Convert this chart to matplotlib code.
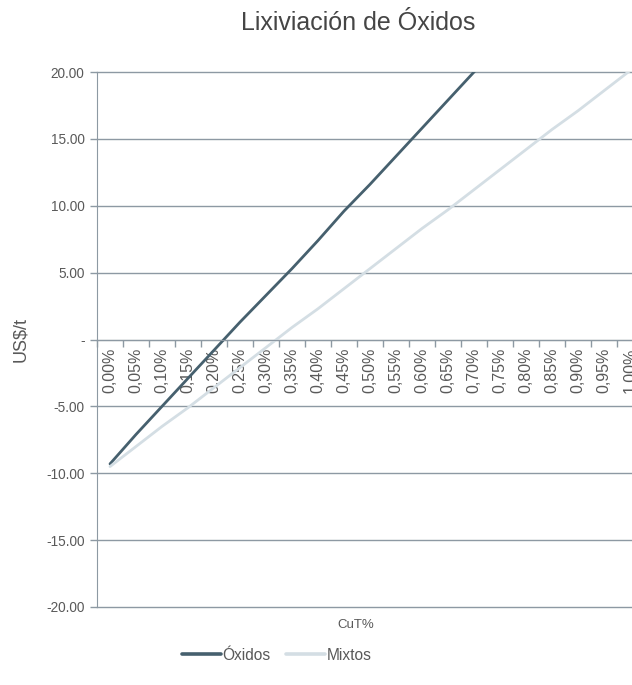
import numpy as np
import matplotlib
matplotlib.use("Agg")
import matplotlib.pyplot as plt
from matplotlib.ticker import FixedLocator, FuncFormatter

plt.rcParams['font.family'] = ['Liberation Sans', 'DejaVu Sans']

# Ley de cobre (CuT%) y margen US$/t por tipo de mineral
cut_labels = ["0,00%", "0,05%", "0,10%", "0,15%", "0,20%", "0,25%", "0,30%",
              "0,35%", "0,40%", "0,45%", "0,50%", "0,55%", "0,60%", "0,65%",
              "0,70%", "0,75%", "0,80%", "0,85%", "0,90%", "0,95%", "1,00%"]
oxidos = [-9.3, -7.1, -5.0, -2.9, -0.8, 1.3, 3.3, 5.3, 7.4, 9.6, 11.6,
          13.7, 15.8, 17.9, 20.0, 22.1, 24.2, 26.3, 28.4, 30.5, 32.6]
mixtos = [-9.5, -8.0, -6.5, -5.1, -3.6, -2.1, -0.6, 0.9, 2.3, 3.8, 5.3,
          6.8, 8.3, 9.7, 11.2, 12.7, 14.2, 15.7, 17.1, 18.6, 20.1]

TXT = '#595959'
AX = '#8d99a3'

fig = plt.figure(figsize=(6.32, 6.85), dpi=100)
ax = fig.add_axes([97/632, 1 - 607/685, 546/632, 535/685])

x = np.arange(len(cut_labels))
ax.plot(x, oxidos, color='#46606e', lw=2.0, label='Óxidos', solid_capstyle='round')
ax.plot(x, mixtos, color='#d4dee4', lw=2.0, label='Mixtos', solid_capstyle='round')

ax.set_xlim(-0.5, len(cut_labels) - 0.5)
ax.set_ylim(-20, 20)

# eje Y
ax.set_yticks(np.arange(-20, 21, 5))
ax.yaxis.set_major_formatter(FuncFormatter(lambda v, p: '-' if abs(v) < 1e-9 else f'{v:.2f}'))
ax.tick_params(axis='y', colors=AX, labelcolor=TXT, labelsize=9.8, length=5, width=1, pad=4)
ax.grid(axis='y', color=AX, lw=1)
for gl in ax.get_ygridlines():
    gl.set_clip_on(False)
ax.set_axisbelow(True)

# eje de categorías cruzando en cero
ax.spines['bottom'].set_position(('data', 0))
ax.spines['bottom'].set_color(AX)
ax.spines['left'].set_color(AX)
ax.spines['top'].set_visible(False)
ax.spines['right'].set_visible(False)
ax.xaxis.set_major_locator(FixedLocator(x))
ax.set_xticklabels(cut_labels, rotation=90)
ax.xaxis.set_minor_locator(FixedLocator(np.arange(len(cut_labels) + 1) - 0.5))
ax.tick_params(axis='x', which='major', length=0, labelsize=11.5, labelcolor=TXT, pad=6)
ax.tick_params(axis='x', which='minor', length=5, width=1, color=AX)

ax.set_ylabel('US$/t', color=TXT, fontsize=13)
ax.yaxis.set_label_coords(-0.125, 0.5)
ax.set_xlabel('CuT%', color=TXT, fontsize=9.5)
ax.xaxis.set_label_coords(259/546, -0.022)

fig.text(358/632, 1 - 23/685, 'Lixiviación de Óxidos', ha='center', va='center',
         fontsize=18, color='#454545')

leg = fig.legend(loc='center', bbox_to_anchor=(277/632, 1 - 655/685), ncol=2, frameon=False,
                 fontsize=11.2, handlelength=2.5, handletextpad=0.1, columnspacing=1.0)
for t in leg.get_texts():
    t.set_color(TXT)
for h in leg.legend_handles:
    h.set_linewidth(2.6)

fig.savefig('out.png', dpi=100)
